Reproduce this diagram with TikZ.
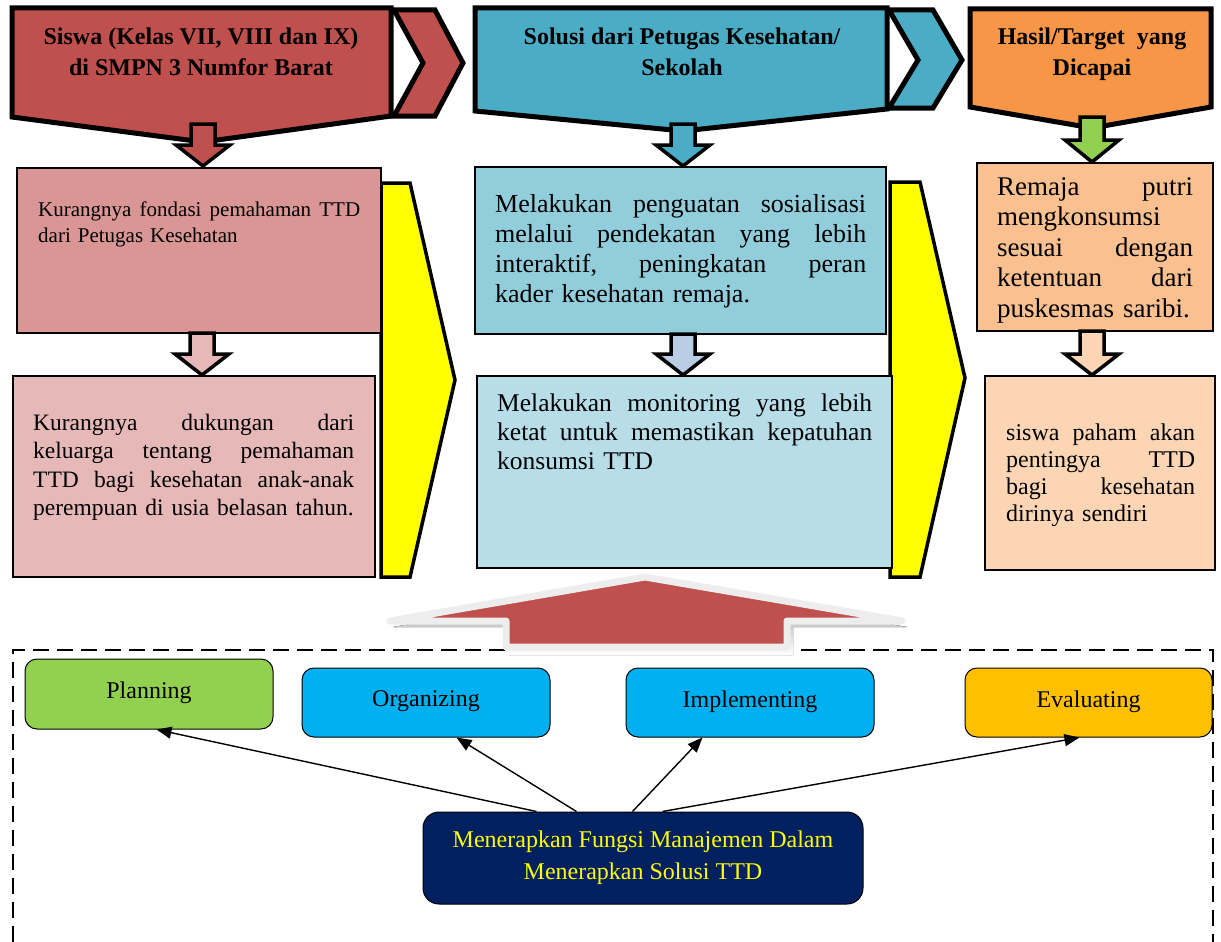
\documentclass[tikz,border=0pt]{standalone}
\usepackage{fontspec}
\setmainfont{Liberation Serif}
\usetikzlibrary{arrows.meta}
\definecolor{hred}{HTML}{C0504D}
\definecolor{hteal}{HTML}{4BACC6}
\definecolor{horange}{HTML}{F79646}
\definecolor{agreen}{HTML}{92D050}
\definecolor{fa1}{HTML}{D99694}
\definecolor{fa2}{HTML}{E6B9B8}
\definecolor{fb1}{HTML}{92CDDC}
\definecolor{fb2}{HTML}{B7DDE8}
\definecolor{fbarr}{HTML}{B9CDE5}
\definecolor{fc1}{HTML}{FAC090}
\definecolor{fc2}{HTML}{FCD5B4}
\definecolor{yel}{HTML}{FFFF00}
\definecolor{pgreen}{HTML}{92D050}
\definecolor{oblue}{HTML}{00B0F0}
\definecolor{eorange}{HTML}{FFC000}
\definecolor{navy}{HTML}{002060}
\definecolor{rim}{HTML}{EDEDED}
\definecolor{shade}{RGB}{185,150,150}
\newcommand{\fs}[2]{\fontsize{#1}{#2}\selectfont}
\newcommand{\jl}[2]{\leavevmode\hbox to #1{#2}}
\newcommand{\DownBlock}[5]{%
  \draw[dnarrow, fill=#5] ({#1-12},#2) -- ({#1+12},#2) -- ({#1+12},#3) -- ({#1+27},#3) -- (#1,#4) -- ({#1-27},#3) -- ({#1-12},#3) -- cycle;}
\tikzset{
  hdr/.style={draw=black, line width=5pt, line join=miter},
  dnarrow/.style={draw=black, line width=3.5pt, line join=miter},
  tbox/.style={draw=black, line width=2.8pt},
  yarrow/.style={draw=black, line width=3.5pt, fill=yel, line join=miter},
  htext/.style={font=\bfseries\fs{24}{31}, align=center, anchor=base, inner sep=0pt},
  btext/.style={align=left, anchor=base west, inner sep=0pt},
  mbox/.style={draw=black, line width=1pt, rounded corners=12pt, font=\fs{24}{32}, align=center, inner sep=0pt},
  conn/.style={draw=black, line width=1.4pt, -{Triangle[length=15pt,width=12pt]}}
}
\begin{document}
\begin{tikzpicture}[x=1pt,y=-1pt]
\useasboundingbox (0,0) rectangle (1221,942);
\fill[white] (0,0) rectangle (1221,942);
% dashed frame
\draw[line width=2.5pt, dash pattern=on 16pt off 8pt] (13,942) -- (13,650) -- (1213,650) -- (1213,942);
% headers
\draw[hdr, fill=hred] (12,8) -- (391,8) -- (391,116) -- (203,142) -- (12,117) -- cycle;
\draw[hdr, fill=hred] (394,10) -- (435,10) -- (463,63) -- (435,116) -- (394,116) -- (423,63) -- cycle;
\draw[hdr, fill=hteal] (475,8) -- (887,8) -- (887,109) -- (683,131) -- (475,111) -- cycle;
\draw[hdr, fill=hteal] (889,10) -- (933,10) -- (962,60) -- (933,108) -- (889,108) -- (918,60) -- cycle;
\draw[hdr, fill=horange] (970,9) -- (1211,9) -- (1211,107) -- (1092,128) -- (970,107) -- cycle;
\node[htext] (h1) at (201,75) {Siswa (Kelas VII, VIII dan IX)\\di SMPN 3 Numfor Barat};
\node[htext] (h2) at (682,75) {Solusi dari Petugas Kesehatan/\\Sekolah};
\node[htext] (h3) at (1092,75) {Hasil/Target\ \ yang\\Dicapai};
% header arrows
\DownBlock{203}{124}{145}{166}{hred}
\DownBlock{683}{124}{145}{166}{hteal}
\DownBlock{1092}{117}{140}{162}{agreen}
% yellow arrows
\draw[yarrow] (381,183) -- (410,183) -- (455,380) -- (410,577) -- (381,577) -- cycle;
\draw[yarrow] (890,182) -- (920,182) -- (965,378) -- (920,577) -- (890,577) -- cycle;
% boxes
\draw[tbox, fill=fa1] (17,168) rectangle (381,333);
\draw[tbox, fill=fa2] (13,376) rectangle (375,577);
\draw[tbox, fill=fb1] (475,167) rectangle (886,334);
\draw[tbox, fill=fb2] (477,376) rectangle (892,568);
\draw[tbox, fill=fc1] (977,163) rectangle (1213,331);
\draw[tbox, fill=fc2] (985,376) rectangle (1215,570);
% between arrows
\DownBlock{202}{333}{354}{375}{fa2}
\DownBlock{683}{334}{354}{375}{fbarr}
\DownBlock{1092}{331}{354}{375}{fc2}
% texts
\node[btext, text width=340pt, font=\fs{21}{26}] (ta1) at (38,216) {\jl{322pt}{Kurangnya \hfill fondasi \hfill pemahaman \hfill TTD}\\dari Petugas Kesehatan};
\node[btext, text width=340pt, font=\fs{23.5}{28.5}] (ta2) at (33,430) {\jl{321pt}{Kurangnya \hfill dukungan \hfill dari}\\\jl{321pt}{keluarga \hfill tentang \hfill pemahaman}\\\jl{321pt}{TTD \hfill bagi \hfill kesehatan \hfill anak-anak}\\perempuan di usia belasan tahun.};
\node[btext, text width=390pt, font=\fs{26}{30}] (tb1) at (495,212) {\jl{371pt}{Melakukan \hfill penguatan \hfill sosialisasi}\\\jl{371pt}{melalui \hfill pendekatan \hfill yang \hfill lebih}\\\jl{371pt}{interaktif, \hfill peningkatan \hfill peran}\\kader kesehatan remaja.};
\node[btext, text width=390pt, font=\fs{25.5}{29}] (tb2) at (497,411) {\jl{375pt}{Melakukan \hfill monitoring \hfill yang \hfill lebih}\\\jl{375pt}{ketat \hfill untuk \hfill memastikan \hfill kepatuhan}\\konsumsi TTD};
\node[btext, text width=215pt, font=\fs{27}{30.5}] (tc1) at (997,195) {\jl{196pt}{Remaja \hfill putri}\\mengkonsumsi\\\jl{196pt}{sesuai \hfill dengan}\\\jl{196pt}{ketentuan \hfill dari}\\puskesmas saribi.};
\node[btext, text width=205pt, font=\fs{24}{27.3}] (tc2) at (1006,440) {\jl{189pt}{siswa \hfill paham \hfill akan}\\\jl{189pt}{pentingya \hfill TTD}\\\jl{189pt}{bagi \hfill kesehatan}\\dirinya sendiri};
% big up arrow
\fill[shade] (649,583) -- (907,627) -- (793,627) -- (793,655) -- (509,655) -- (509,627) -- (393,627) -- cycle;
\draw[line width=7pt, draw=rim, fill=hred, line join=round] (645,577) -- (902,621) -- (787,621) -- (787,647) -- (506,647) -- (506,621) -- (390,621) -- cycle;
% management boxes
\node[mbox, fill=pgreen, minimum width=248pt, minimum height=70pt] (plan) at (149,694) {\raisebox{8pt}{Planning}};
\node[mbox, fill=oblue, minimum width=248pt, minimum height=69pt] (org) at (426,702.5) {\raisebox{7pt}{Organizing}};
\node[mbox, fill=oblue, minimum width=248pt, minimum height=69pt] (impl) at (750,702.5) {\raisebox{7pt}{Implementing}};
\node[mbox, fill=eorange, minimum width=247pt, minimum height=69pt] (eval) at (1088.5,702.5) {\raisebox{7pt}{Evaluating}};
\node[mbox, fill=navy, text=yel, minimum width=440pt, minimum height=92pt, rounded corners=16pt] (mgmt) at (643,858) {Menerapkan Fungsi Manajemen Dalam\\Menerapkan Solusi TTD};
\draw[conn] ([xshift=114pt]mgmt.north west) -- ([xshift=132pt]plan.south west);
\draw[conn] ([xshift=154pt]mgmt.north west) -- ([xshift=155pt]org.south west);
\draw[conn] ([xshift=210pt]mgmt.north west) -- ([xshift=77pt]impl.south west);
\draw[conn] ([xshift=240pt]mgmt.north west) -- ([xshift=115pt]eval.south west);
\end{tikzpicture}
\end{document}
